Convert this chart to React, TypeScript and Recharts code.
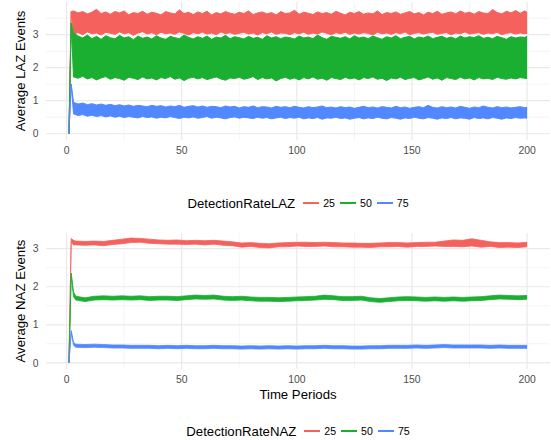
import React from 'react'
import { ComposedChart, Area, XAxis, YAxis, CartesianGrid, Legend } from 'recharts'

const FONT = '"Liberation Sans", Arial, Helvetica, sans-serif'
const RED = '#F5625D'
const GREEN = '#1BAF31'
const BLUE = '#5288FF'

const rateLabels = ['25', '50', '75']
const rateColors = [RED, GREEN, BLUE]
const xTicks = [0, 50, 100, 150, 200]
const xMinor = [25, 75, 125, 175]

// ---- LAZ panel (top) ----
const timeLAZ = [
  1, 2, 3, 5, 7, 9, 11, 13, 15, 17,
  19, 21, 23, 25, 27, 29, 31, 33, 35, 37,
  39, 41, 43, 45, 47, 49, 51, 53, 55, 57,
  59, 61, 63, 65, 67, 69, 71, 73, 75, 77,
  79, 81, 83, 85, 87, 89, 91, 93, 95, 97,
  99, 101, 103, 105, 107, 109, 111, 113, 115, 117,
  119, 121, 123, 125, 127, 129, 131, 133, 135, 137,
  139, 141, 143, 145, 147, 149, 151, 153, 155, 157,
  159, 161, 163, 165, 167, 169, 171, 173, 175, 177,
  179, 181, 183, 185, 187, 189, 191, 193, 195, 197,
  199, 200,
]
const redHiLAZ = [
  0, 3.7, 3.72, 3.66, 3.7, 3.63, 3.68, 3.77, 3.64, 3.69,
  3.62, 3.7, 3.66, 3.72, 3.6, 3.67, 3.64, 3.71, 3.62, 3.68,
  3.65, 3.6, 3.7, 3.66, 3.63, 3.75, 3.64, 3.68, 3.61, 3.69,
  3.64, 3.71, 3.6, 3.67, 3.63, 3.7, 3.65, 3.62, 3.68, 3.64,
  3.72, 3.61, 3.66, 3.69, 3.63, 3.67, 3.6, 3.7, 3.64, 3.66,
  3.74, 3.62, 3.68, 3.65, 3.61, 3.69, 3.64, 3.67, 3.62, 3.71,
  3.65, 3.6, 3.68, 3.64, 3.7, 3.62, 3.66, 3.63, 3.72, 3.61,
  3.67, 3.64, 3.69, 3.62, 3.66, 3.7, 3.63, 3.67, 3.6, 3.68,
  3.64, 3.71, 3.62, 3.66, 3.69, 3.63, 3.72, 3.65, 3.68, 3.62,
  3.7, 3.66, 3.64, 3.76, 3.67, 3.63, 3.71, 3.66, 3.73, 3.65,
  3.72, 3.68,
]
const redLoLAZ = [
  0, 3.7, 3.02, 3.06, 3.0, 3.08, 3.03, 3.05, 2.99, 3.07,
  3.04, 3.01, 3.08, 3.03, 3.06, 2.98, 3.05, 3.09, 3.02, 3.06,
  3.0, 3.07, 3.03, 3.05, 3.01, 3.08, 3.04, 2.99, 3.06, 3.03,
  3.07, 3.02, 3.05, 3.0, 3.08, 3.03, 3.06, 3.01, 3.04, 3.07,
  3.02, 3.05, 2.99, 3.06, 3.03, 3.08, 3.01, 3.05, 3.04, 3.0,
  3.06, 3.03, 3.07, 3.01, 3.05, 3.02, 3.08, 3.04, 3.0, 3.06,
  3.03, 3.07, 3.01, 3.05, 3.02, 3.06, 3.04, 2.99, 3.07, 3.03,
  3.05, 3.01, 3.06, 3.03, 3.08, 3.0, 3.04, 3.06, 3.02, 3.05,
  3.07, 3.01, 3.04, 3.06, 3.0, 3.05, 3.03, 3.08, 3.02, 3.04,
  3.06, 3.01, 3.05, 3.03, 3.07, 3.0, 3.04, 3.06, 3.02, 3.05,
  3.03, 3.04,
]
const greenHiLAZ = [
  0, 3.35, 3.05, 2.96, 2.9, 2.99, 2.88, 2.95, 2.86, 2.97,
  2.91, 2.87, 2.98, 2.9, 2.94, 2.85, 2.96, 2.89, 2.93, 2.87,
  2.97, 2.9, 2.86, 2.95, 2.91, 2.88, 2.99, 2.92, 2.87, 2.94,
  2.89, 2.96, 2.86, 2.93, 2.9, 2.98, 2.88, 2.94, 2.91, 2.87,
  2.95, 2.89, 2.92, 2.86, 2.97, 2.9, 2.94, 2.88, 2.93, 2.91,
  2.87, 2.96, 2.9, 2.93, 2.88, 2.99, 2.91, 2.86, 2.95, 2.92,
  2.89, 2.94, 2.87, 2.97, 2.9, 2.93, 2.88, 2.96, 2.91, 2.86,
  2.94, 2.9, 2.97, 2.88, 2.92, 2.95, 2.87, 2.93, 2.9, 2.96,
  2.88, 2.92, 2.95, 2.89, 2.93, 2.87, 2.96, 2.9, 2.94, 2.91,
  2.97, 2.89, 2.92, 2.88, 2.95, 2.91, 2.86, 2.94, 2.9, 2.93,
  2.92, 2.95,
]
const greenLoLAZ = [
  0, 3.35, 1.72, 1.68, 1.74, 1.66, 1.7, 1.63, 1.69, 1.73,
  1.65, 1.7, 1.67, 1.62, 1.71, 1.68, 1.64, 1.72, 1.66, 1.69,
  1.63, 1.7, 1.67, 1.73, 1.65, 1.69, 1.61, 1.68, 1.71, 1.66,
  1.7, 1.64, 1.68, 1.72, 1.66, 1.62, 1.69, 1.67, 1.71, 1.65,
  1.68, 1.73, 1.64, 1.7, 1.66, 1.69, 1.6, 1.67, 1.71, 1.65,
  1.69, 1.63, 1.7, 1.66, 1.72, 1.65, 1.68, 1.62, 1.7, 1.67,
  1.64, 1.71, 1.66, 1.69, 1.63, 1.7, 1.67, 1.72, 1.65, 1.68,
  1.61, 1.69, 1.66, 1.71, 1.64, 1.68, 1.7, 1.63, 1.67, 1.72,
  1.65, 1.69, 1.62, 1.7, 1.67, 1.64, 1.71, 1.66, 1.69, 1.63,
  1.7, 1.66, 1.68, 1.64, 1.71, 1.67, 1.65, 1.69, 1.66, 1.7,
  1.68, 1.67,
]
const blueHiLAZ = [
  0, 1.5, 0.95, 0.9, 0.93, 0.88, 0.91, 0.87, 0.9, 0.86,
  0.89, 0.85, 0.88, 0.84, 0.87, 0.83, 0.86, 0.84, 0.82, 0.86,
  0.83, 0.85, 0.81, 0.84, 0.82, 0.86, 0.8, 0.83, 0.85, 0.81,
  0.84, 0.8, 0.83, 0.82, 0.79, 0.84, 0.81, 0.83, 0.78, 0.82,
  0.8, 0.84, 0.79, 0.82, 0.81, 0.78, 0.83, 0.8, 0.82, 0.79,
  0.83, 0.8, 0.78, 0.82, 0.79, 0.81, 0.84, 0.79, 0.81, 0.78,
  0.82, 0.79, 0.81, 0.77, 0.8, 0.83, 0.79, 0.81, 0.78, 0.82,
  0.8, 0.78, 0.83, 0.79, 0.81, 0.77, 0.8, 0.82, 0.79, 0.86,
  0.8, 0.78, 0.82, 0.79, 0.81, 0.78, 0.83, 0.8, 0.77, 0.81,
  0.79, 0.84, 0.8, 0.78, 0.82, 0.79, 0.81, 0.78, 0.8, 0.82,
  0.79, 0.8,
]
const blueLoLAZ = [
  0, 1.5, 0.6, 0.55, 0.58, 0.53, 0.56, 0.52, 0.55, 0.51,
  0.54, 0.5, 0.53, 0.49, 0.52, 0.5, 0.48, 0.52, 0.49, 0.51,
  0.47, 0.5, 0.48, 0.52, 0.49, 0.46, 0.5, 0.48, 0.51, 0.47,
  0.49, 0.52, 0.47, 0.5, 0.48, 0.45, 0.49, 0.51, 0.47, 0.5,
  0.48, 0.46, 0.5, 0.47, 0.49, 0.45, 0.48, 0.5, 0.46, 0.49,
  0.47, 0.5, 0.45, 0.48, 0.46, 0.49, 0.44, 0.48, 0.47, 0.5,
  0.46, 0.48, 0.44, 0.47, 0.49, 0.45, 0.48, 0.46, 0.5, 0.47,
  0.45, 0.49, 0.47, 0.44, 0.48, 0.46, 0.5, 0.47, 0.45, 0.49,
  0.47, 0.44, 0.48, 0.46, 0.49, 0.45, 0.48, 0.47, 0.44, 0.49,
  0.46, 0.48, 0.45, 0.49, 0.47, 0.44, 0.48, 0.46, 0.49, 0.47,
  0.48, 0.47,
]

// ---- NAZ panel (bottom) ----
const timeNAZ = [
  1, 2, 3, 4, 8, 12, 16, 20, 24, 28,
  32, 36, 40, 44, 48, 52, 56, 60, 64, 68,
  72, 76, 80, 84, 88, 92, 96, 100, 104, 108,
  112, 116, 120, 124, 128, 132, 136, 140, 144, 148,
  152, 156, 160, 164, 168, 172, 176, 180, 184, 188,
  192, 196, 200,
]
const redLoNAZ = [
  0, 3.19, 3.1, 3.1, 3.09, 3.1, 3.08, 3.11, 3.13, 3.16,
  3.17, 3.14, 3.13, 3.12, 3.12, 3.11, 3.12, 3.1, 3.12, 3.09,
  3.08, 3.04, 3.06, 3.03, 3.02, 3.05, 3.05, 3.07, 3.06, 3.06,
  3.07, 3.05, 3.05, 3.04, 3.04, 3.03, 3.05, 3.05, 3.06, 3.04,
  3.06, 3.06, 3.07, 3.06, 3.06, 3.05, 3.07, 3.04, 3.06, 3.03,
  3.04, 3.03, 3.05,
]
const redHiNAZ = [
  0, 3.27, 3.22, 3.2, 3.19, 3.2, 3.19, 3.22, 3.25, 3.28,
  3.27, 3.25, 3.23, 3.22, 3.23, 3.21, 3.22, 3.21, 3.22, 3.2,
  3.18, 3.15, 3.16, 3.14, 3.13, 3.15, 3.16, 3.17, 3.17, 3.16,
  3.17, 3.16, 3.15, 3.15, 3.14, 3.14, 3.15, 3.16, 3.16, 3.15,
  3.16, 3.17, 3.17, 3.2, 3.23, 3.22, 3.26, 3.22, 3.18, 3.16,
  3.16, 3.15, 3.17,
]
const greenLoNAZ = [
  0, 2.3, 1.74, 1.65, 1.61, 1.65, 1.66, 1.65, 1.66, 1.65,
  1.66, 1.64, 1.65, 1.65, 1.64, 1.66, 1.68, 1.67, 1.68, 1.65,
  1.64, 1.65, 1.63, 1.62, 1.62, 1.61, 1.62, 1.63, 1.64, 1.65,
  1.67, 1.66, 1.64, 1.64, 1.65, 1.61, 1.59, 1.61, 1.63, 1.64,
  1.63, 1.62, 1.63, 1.62, 1.63, 1.62, 1.63, 1.64, 1.66, 1.68,
  1.67, 1.66, 1.67,
]
const greenHiNAZ = [
  0, 2.36, 1.86, 1.75, 1.71, 1.75, 1.76, 1.75, 1.76, 1.75,
  1.76, 1.74, 1.75, 1.75, 1.74, 1.76, 1.78, 1.77, 1.78, 1.75,
  1.74, 1.75, 1.73, 1.72, 1.72, 1.71, 1.72, 1.73, 1.74, 1.75,
  1.78, 1.76, 1.74, 1.74, 1.75, 1.71, 1.69, 1.71, 1.73, 1.74,
  1.73, 1.72, 1.73, 1.72, 1.73, 1.72, 1.73, 1.74, 1.76, 1.78,
  1.77, 1.76, 1.77,
]
const blueLoNAZ = [
  0, 0.8, 0.46, 0.41, 0.4, 0.41, 0.4, 0.39, 0.39, 0.38,
  0.38, 0.38, 0.37, 0.38, 0.37, 0.38, 0.37, 0.37, 0.38, 0.37,
  0.37, 0.36, 0.37, 0.36, 0.37, 0.36, 0.37, 0.36, 0.37, 0.37,
  0.38, 0.37, 0.37, 0.36, 0.36, 0.37, 0.37, 0.38, 0.38, 0.38,
  0.39, 0.38, 0.39, 0.4, 0.39, 0.39, 0.39, 0.39, 0.38, 0.39,
  0.38, 0.38, 0.38,
]
const blueHiNAZ = [
  0, 0.85, 0.54, 0.49, 0.48, 0.49, 0.48, 0.47, 0.47, 0.46,
  0.46, 0.46, 0.45, 0.46, 0.45, 0.46, 0.45, 0.45, 0.46, 0.45,
  0.45, 0.44, 0.45, 0.44, 0.45, 0.44, 0.45, 0.44, 0.45, 0.45,
  0.46, 0.45, 0.45, 0.44, 0.44, 0.45, 0.45, 0.46, 0.46, 0.46,
  0.47, 0.46, 0.47, 0.48, 0.47, 0.47, 0.47, 0.47, 0.46, 0.47,
  0.46, 0.46, 0.46,
]

const seriesKeys = ['r25', 'r50', 'r75']

function LegendRow({ title }: { title: string }) {
  return (
    <div style={{ display: 'flex', justifyContent: 'center', alignItems: 'center', height: 20, fontFamily: FONT, color: '#000' }}>
      <span style={{ fontSize: 13.2, marginRight: 8 }}>{title}</span>
      {rateLabels.map((lab, i) => (
        <span key={lab} style={{ display: 'flex', alignItems: 'center', marginRight: i < 2 ? 5 : 0 }}>
          <span style={{ display: 'inline-block', width: 16, height: 2, background: rateColors[i], marginRight: 4 }} />
          <span style={{ fontSize: 10.6 }}>{lab}</span>
        </span>
      ))}
    </div>
  )
}

type PanelProps = {
  time: number[]
  lo: number[][]
  hi: number[][]
  height: number
  top: number
  xAxisHeight: number
  yDomain: [number, number]
  yTicks: number[]
  yMinor: number[]
  yTitle: string
  xTitle?: string
  legendTitle: string
  legendTop: number
  strokeW: number
}

function Panel(p: PanelProps) {
  const rows = p.time.map((t, i) => ({
    t,
    r25: [p.lo[0][i], p.hi[0][i]],
    r50: [p.lo[1][i], p.hi[1][i]],
    r75: [p.lo[2][i], p.hi[2][i]],
  }))
  return (
    <ComposedChart width={551} height={p.height} data={rows} margin={{ top: p.top, right: 1, bottom: 0, left: 0 }}>
      <CartesianGrid stroke="#efefef" strokeWidth={0.7} horizontalValues={p.yMinor} verticalValues={xMinor} />
      <CartesianGrid stroke="#e9e9e9" strokeWidth={1.2} horizontalValues={p.yTicks} verticalValues={xTicks} />
      <XAxis
        type="number"
        dataKey="t"
        domain={[-8.95, 209.95]}
        ticks={xTicks}
        allowDataOverflow
        axisLine={false}
        tickLine={false}
        tickSize={5}
        tickMargin={2}
        height={p.xAxisHeight}
        tick={{ fill: '#4d4d4d', fontSize: 10.4, fontFamily: FONT }}
        label={p.xTitle ? { value: p.xTitle, position: 'insideTop', offset: 21, fill: '#000', fontSize: 13.2, fontFamily: FONT } : undefined}
      />
      <YAxis
        type="number"
        domain={p.yDomain}
        ticks={p.yTicks}
        allowDataOverflow
        width={46}
        axisLine={false}
        tickLine={false}
        tickSize={5}
        tickMargin={2.5}
        tick={{ fill: '#4d4d4d', fontSize: 10.4, fontFamily: FONT }}
        label={{ value: p.yTitle, angle: -90, position: 'insideLeft', offset: 20.5, fill: '#000', fontSize: 13.2, fontFamily: FONT, style: { textAnchor: 'middle' } }}
      />
      {seriesKeys.map((k, i) => (
        <Area
          key={k}
          type="linear"
          dataKey={k}
          stroke={rateColors[i]}
          strokeWidth={p.strokeW}
          fill={rateColors[i]}
          fillOpacity={1}
          dot={false}
          activeDot={false}
          isAnimationActive={false}
        />
      ))}
      <Legend
        verticalAlign="middle"
        align="center"
        layout="horizontal"
        wrapperStyle={{ top: p.legendTop, left: 46, width: 504, height: 20 }}
        content={() => <LegendRow title={p.legendTitle} />}
      />
    </ComposedChart>
  )
}

export default function App() {
  return (
    <div style={{ position: 'absolute', left: 0, top: 0, width: 551, height: 440, background: '#fff' }}>
      <Panel
        time={timeLAZ}
        lo={[redLoLAZ, greenLoLAZ, blueLoLAZ]}
        hi={[redHiLAZ, greenHiLAZ, blueHiLAZ]}
        height={215}
        top={2}
        xAxisHeight={75}
        yDomain={[-0.19, 3.99]}
        yTicks={[0, 1, 2, 3]}
        yMinor={[0.5, 1.5, 2.5, 3.5]}
        yTitle="Average LAZ Events"
        legendTitle="DetectionRateLAZ"
        legendTop={193}
        strokeW={1}
      />
      <Panel
        time={timeNAZ}
        lo={[redLoNAZ, greenLoNAZ, blueLoNAZ]}
        hi={[redHiNAZ, greenHiNAZ, blueHiNAZ]}
        height={225}
        top={18}
        xAxisHeight={71}
        yDomain={[-0.1625, 3.4125]}
        yTicks={[0, 1, 2, 3]}
        yMinor={[0.5, 1.5, 2.5]}
        yTitle="Average NAZ Events"
        xTitle="Time Periods"
        legendTitle="DetectionRateNAZ"
        legendTop={206}
        strokeW={0.8}
      />
    </div>
  )
}
